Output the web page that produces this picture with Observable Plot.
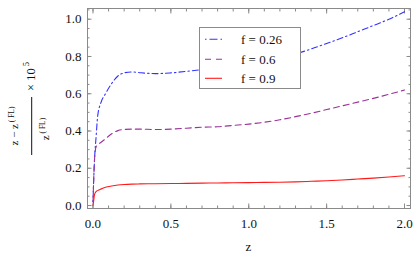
<!DOCTYPE html>
<html>
<head>
<meta charset="utf-8">
<script src="https://cdn.jsdelivr.net/npm/d3@7"></script>
<script src="https://cdn.jsdelivr.net/npm/@observablehq/plot@0.6"></script>
<style>
  html, body { margin: 0; padding: 0; background: white; }
  svg { display: block; }
  #chart svg text, #chart svg tspan { font-family: "Liberation Serif", "Times New Roman", serif !important; }
</style>
</head>
<body>
<div id="chart"></div>
<script>
// ---- data ----
const zValues = [0, 0.005, 0.01, 0.02, 0.03, 0.05, 0.08, 0.12, 0.16, 0.2, 0.25, 0.3, 0.4, 0.5, 0.6, 0.7, 0.8, 0.9, 1.0, 1.1, 1.2, 1.3, 1.4, 1.5, 1.6, 1.7, 1.8, 1.9, 2.0];
const seriesF026 = [0.02, 0.15, 0.25, 0.37, 0.48, 0.55, 0.60, 0.655, 0.695, 0.712, 0.717, 0.713, 0.708, 0.712, 0.72, 0.73, 0.742, 0.755, 0.77, 0.785, 0.80, 0.815, 0.84, 0.87, 0.90, 0.933, 0.966, 1.0, 1.04];
const seriesF06  = [0.02, 0.15, 0.25, 0.315, 0.325, 0.338, 0.358, 0.385, 0.402, 0.408, 0.41, 0.41, 0.408, 0.41, 0.415, 0.42, 0.423, 0.43, 0.437, 0.447, 0.46, 0.477, 0.495, 0.515, 0.535, 0.555, 0.575, 0.597, 0.62];
const seriesF09  = [0, 0.03, 0.06, 0.075, 0.08, 0.088, 0.098, 0.105, 0.11, 0.113, 0.115, 0.116, 0.117, 0.118, 0.119, 0.12, 0.121, 0.122, 0.123, 0.124, 0.125, 0.127, 0.13, 0.133, 0.137, 0.142, 0.147, 0.153, 0.16];
const seriesNames = ["f = 0.26", "f = 0.6", "f = 0.9"];
const xMajorTicks = [0, 0.5, 1.0, 1.5, 2.0];
const xMinorTicks = d3.range(0, 21).map(i => i / 10);
const yMajorTicks = [0, 0.2, 0.4, 0.6, 0.8, 1.0];
const yMinorTicks = d3.range(0, 22).map(i => i / 20);

// ---- styles ----
const colors = ["#3333ff", "#993399", "#ff1a1a"];
const dashes = ["1.5,3,6,3", "6,4", null];
const frameColor = "#8a8a8a";
const font = "Liberation Serif, Times New Roman, serif";

const series = [seriesF026, seriesF06, seriesF09];
const table = series.map((vals, s) => zValues.map((z, i) => ({z, v: vals[i], name: seriesNames[s]})));

const lineMarks = table.map((rows, s) => Plot.line(rows, {
  x: "z", y: "v", stroke: colors[s], strokeWidth: 1.1,
  strokeDasharray: dashes[s], curve: "monotone-x"
}));

const chart = Plot.plot({
  width: 415, height: 259,
  marginLeft: 87, marginRight: 5, marginTop: 8, marginBottom: 51,
  x: {domain: [-0.0353, 2.0385]},
  y: {domain: [-0.016, 1.0575]},
  style: {fontFamily: font, fontSize: "13px", background: "white", color: "#111"},
  marks: [
    // tick labels
    Plot.axisX({anchor: "bottom", ticks: xMajorTicks, tickSize: 0, tickPadding: 10, tickFormat: d3.format(".1f"), label: null, fontSize: 13}),
    Plot.axisY({anchor: "left", ticks: yMajorTicks, tickSize: 0, tickPadding: 6, tickFormat: d3.format(".1f"), label: null, fontSize: 13}),
    // inward frame ticks (major)
    Plot.axisX({anchor: "bottom", ticks: xMajorTicks, tickSize: -4.5, fill: "none", stroke: frameColor, label: null}),
    Plot.axisX({anchor: "top", ticks: xMajorTicks, tickSize: -4.5, fill: "none", stroke: frameColor, label: null}),
    Plot.axisY({anchor: "left", ticks: yMajorTicks, tickSize: -4.5, fill: "none", stroke: frameColor, label: null}),
    Plot.axisY({anchor: "right", ticks: yMajorTicks, tickSize: -4.5, fill: "none", stroke: frameColor, label: null}),
    // inward frame ticks (minor)
    Plot.axisX({anchor: "bottom", ticks: xMinorTicks, tickSize: -2.5, fill: "none", stroke: frameColor, label: null}),
    Plot.axisX({anchor: "top", ticks: xMinorTicks, tickSize: -2.5, fill: "none", stroke: frameColor, label: null}),
    Plot.axisY({anchor: "left", ticks: yMinorTicks, tickSize: -2.5, fill: "none", stroke: frameColor, label: null}),
    Plot.axisY({anchor: "right", ticks: yMinorTicks, tickSize: -2.5, fill: "none", stroke: frameColor, label: null}),
    ...lineMarks,
    Plot.frame({stroke: frameColor})
  ]
});

document.getElementById("chart").appendChild(chart);

// ---- extra annotations: axis titles and legend ----
const svg = d3.select(chart);

// x-axis title
svg.append("text")
  .attr("x", 248.5).attr("y", 251)
  .attr("text-anchor", "middle")
  .attr("font-size", 13).attr("fill", "#111")
  .text("z");

// y-axis title: (z - z^(FL)) / z^(FL) x 10^5, rotated
const yl = svg.append("g")
  .attr("transform", "translate(31.7,126) rotate(-90)")
  .attr("fill", "#111");
const num = yl.append("text").attr("x", 0).attr("y", -13.5).attr("text-anchor", "middle").attr("font-size", 11);
num.append("tspan").text("z \u2212 z");
num.append("tspan").attr("dy", -4.5).attr("font-size", 7.5).text(" ( FL)");
const den = yl.append("text").attr("x", -3).attr("y", 17.5).attr("text-anchor", "middle").attr("font-size", 11);
den.append("tspan").text("z");
den.append("tspan").attr("dy", -4.5).attr("font-size", 7.5).text(" ( FL)");
yl.append("line").attr("x1", -29).attr("x2", 29).attr("y1", 0).attr("y2", 0)
  .attr("stroke", "#111").attr("stroke-width", 1);
const mult = yl.append("text").attr("x", 35).attr("y", 3.5).attr("font-size", 12.5).attr("text-anchor", "start");
mult.append("tspan").text("\u00d7 10");
mult.append("tspan").attr("dy", -6).attr("font-size", 8.5).text(" 5");

// legend box
const lg = svg.append("g").attr("text-anchor", "start");
lg.append("rect").attr("x", 199.5).attr("y", 27.5).attr("width", 101).attr("height", 61)
  .attr("fill", "white").attr("stroke", frameColor).attr("stroke-width", 1);
const rowsY = [39.3, 59.3, 78.3];
seriesNames.forEach((name, i) => {
  lg.append("line").attr("x1", 205).attr("x2", 222).attr("y1", rowsY[i]).attr("y2", rowsY[i])
    .attr("stroke", colors[i]).attr("stroke-width", 1.1)
    .attr("stroke-dasharray", dashes[i] ? (i === 0 ? "1.5,3,8,3" : "6,5") : null);
  lg.append("text").attr("x", 241).attr("y", rowsY[i] + 4.5).attr("text-anchor", "start")
    .attr("font-size", 13).attr("fill", "#111").text(name);
});
</script>
</body>
</html>
